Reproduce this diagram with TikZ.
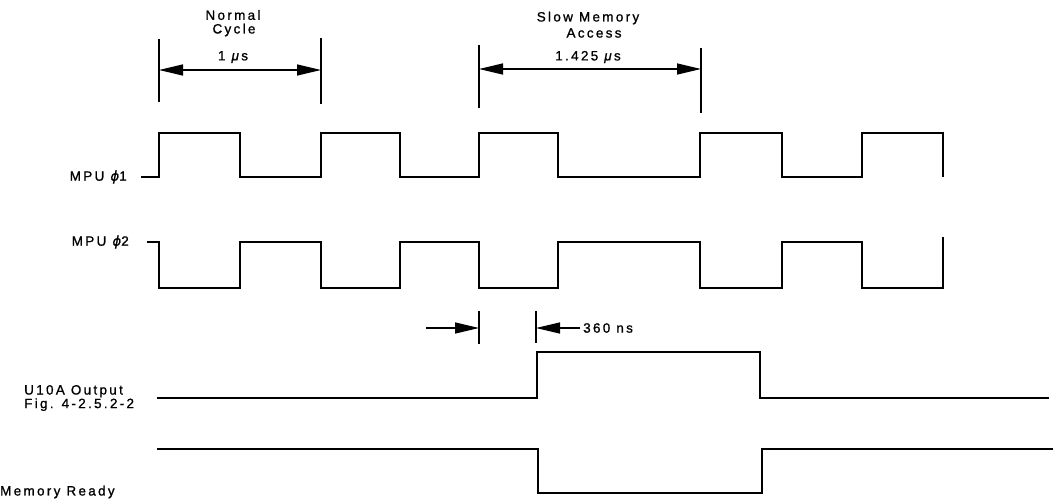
\documentclass[tikz,border=0pt]{standalone}
\usepackage{fontspec}
\setmainfont[LetterSpace=17,FakeBold=1]{Liberation Sans}
\newfontfamily\dvfont[FakeBold=1]{DejaVu Sans}
\newcommand{\myphi}{{\dvfont\itshape ϕ}}
\usetikzlibrary{arrows.meta}
\begin{document}
\begin{tikzpicture}[x=1pt,y=-1pt,
  wave/.style={line width=1.7pt},
  marker/.style={line width=1.7pt},
  tip/.tip={Triangle[length=24pt,width=11pt]},
  dimboth/.style={line width=1.4pt,{tip}-{tip}},
  dimone/.style={line width=1.4pt,-{tip}},
  lbl/.style={font=\fontsize{13.5}{12.5}\selectfont, inner sep=0pt},
]
\useasboundingbox (0,0) rectangle (1054,498);

% ---- labels ----
\node[lbl] (normal) at (233,15) {Normal};
\node[lbl] (cycle) at (234,30) {Cycle};
\node[lbl] (t1) at (233,57) {1 \textit{μ}s};
\node[lbl] (slow) at (588,18) {Slow Memory};
\node[lbl] (access) at (594,33) {Access};
\node[lbl] (t2) at (588,57) {1.425 \textit{μ}s};
\node[lbl,anchor=east] (phi1) at (127,177) {MPU \myphi1};
\node[lbl,anchor=east] (phi2) at (129,242) {MPU \myphi2};
\node[lbl,anchor=west] (ns) at (583,328) {360 ns};
\node[lbl,anchor=west,align=left] (u10a) at (24,398) {U10A Output\\Fig. 4-2.5.2-2};
\node[lbl,anchor=west] (mr) at (0,492) {Memory Ready};

% ---- dimension markers ----
\coordinate (nL1) at (159,39);  \coordinate (nL2) at (159,102);
\coordinate (nR1) at (321,38);  \coordinate (nR2) at (321,104);
\coordinate (sL1) at (479,45);  \coordinate (sL2) at (479,108);
\coordinate (sR1) at (701,48);  \coordinate (sR2) at (701,113);
\draw[marker] (nL1) -- (nL2);
\draw[marker] (nR1) -- (nR2);
\draw[marker] (sL1) -- (sL2);
\draw[marker] (sR1) -- (sR2);
\coordinate (nA) at (159,70); \coordinate (nB) at (321,70);
\coordinate (sA) at (479,69); \coordinate (sB) at (701,69);
\draw[dimboth] (nA) -- (nB);
\draw[dimboth] (sA) -- (sB);

% ---- 360 ns ----
\coordinate (dL1) at (479,311); \coordinate (dL2) at (479,344);
\coordinate (dR1) at (536,311); \coordinate (dR2) at (536,343);
\draw[marker] (dL1) -- (dL2);
\draw[marker] (dR1) -- (dR2);
\coordinate (dLs) at (426,328); \coordinate (dLe) at (479,328);
\coordinate (dRs) at (580,328); \coordinate (dRe) at (536,328);
\draw[dimone] (dLs) -- (dLe);
\draw[dimone] (dRs) -- (dRe);

% ---- waveforms ----
\draw[wave] (141,177) -- (159,177) -- (159,133) -- (240,133) -- (240,177)
  -- (321,177) -- (321,133) -- (400,133) -- (400,177) -- (479,177)
  -- (479,133) -- (558,133) -- (558,177) -- (700,177) -- (700,133)
  -- (782,133) -- (782,177) -- (862,177) -- (862,133) -- (943,133) -- (943,177);

\draw[wave] (147,242) -- (159,242) -- (159,288) -- (240,288) -- (240,242)
  -- (321,242) -- (321,288) -- (400,288) -- (400,242) -- (479,242)
  -- (479,288) -- (558,288) -- (558,242) -- (700,242) -- (700,288)
  -- (782,288) -- (782,242) -- (862,242) -- (862,288) -- (943,288) -- (943,237);

\draw[wave] (157,398) -- (537,398) -- (537,352) -- (760,352) -- (760,398) -- (1049,398);

\draw[wave] (157,449) -- (538,449) -- (538,493) -- (762,493) -- (762,449) -- (1053,449);
\end{tikzpicture}
\end{document}
